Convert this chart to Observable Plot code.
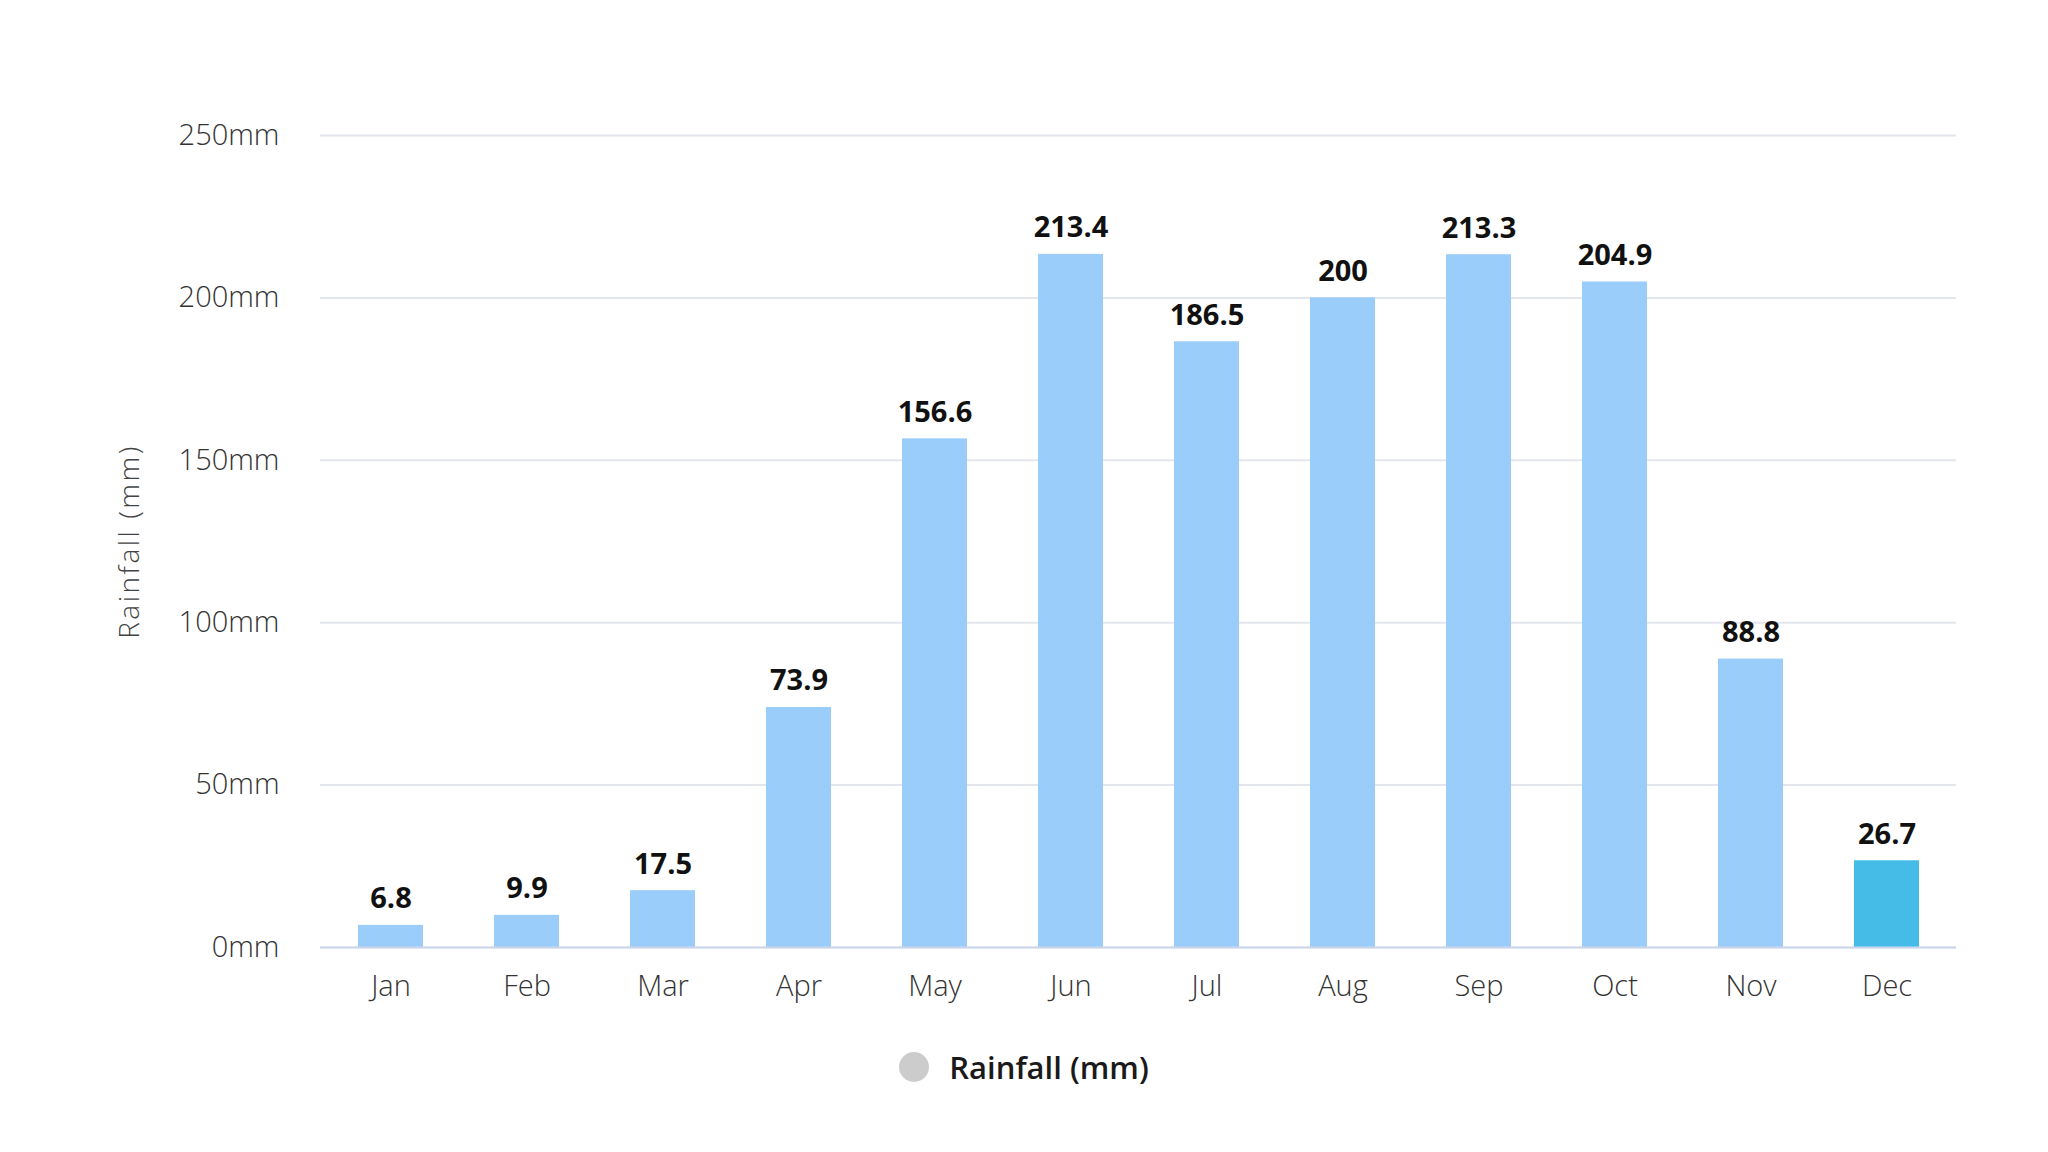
<!DOCTYPE html>
<html>
<head>
<meta charset="utf-8">
<script src="https://cdn.jsdelivr.net/npm/d3@7"></script>
<script src="https://cdn.jsdelivr.net/npm/@observablehq/plot@0.6"></script>
<style>
  html, body { margin: 0; padding: 0; background: #fff; }
  body { width: 2048px; font-family: "Open Sans", sans-serif; }
  #legend { display: flex; justify-content: center; align-items: center; height: 74px; margin-top: 0; }
  #legend .dot { width: 30px; height: 30px; border-radius: 50%; background: #cccccc; margin-right: 20px; }
  #legend .lbl { font-size: 31px; font-weight: 600; color: #1a1a1a; }
</style>
</head>
<body>
<div id="chart"></div>
<div id="legend"><span class="dot"></span><span class="lbl">Rainfall (mm)</span></div>
<script>
const months = ["Jan","Feb","Mar","Apr","May","Jun","Jul","Aug","Sep","Oct","Nov","Dec"];
const rainfall = [6.8, 9.9, 17.5, 73.9, 156.6, 213.4, 186.5, 200, 213.3, 204.9, 88.8, 26.7];
const yTicks = [0, 50, 100, 150, 200, 250];
const highlightMonth = "Dec";
const yTitle = "Rainfall (mm)";

const data = months.map((m, i) => ({month: m, value: rainfall[i]}));

const chart = Plot.plot({
  width: 2048,
  height: 1030,
  marginTop: 135,
  marginBottom: 83,
  marginLeft: 320,
  marginRight: 92,
  style: {fontFamily: "'Open Sans', sans-serif", background: "#fff"},
  x: {domain: months, paddingInner: 0.523, paddingOuter: 0.2615, label: null},
  y: {domain: [0, 250], label: null},
  marks: [
    Plot.gridY(yTicks, {stroke: "#e3e6ec", strokeOpacity: 1, strokeWidth: 2}),
    Plot.barY(data, {
      x: "month", y: "value",
      fill: d => d.month === highlightMonth ? "#45bce8" : "#9bcdfb"
    }),
    Plot.ruleY([0], {stroke: "#ccd6eb", strokeWidth: 2}),
    Plot.axisX({tickSize: 0, tickPadding: 28, fontSize: 29, fill: "#333", fontWeight: 300}),
    Plot.axisY({ticks: yTicks, tickSize: 0, tickPadding: 41, tickFormat: d => d + "mm", fontSize: 29, fill: "#333", fontWeight: 300, label: null}),
    Plot.text(data, {
      x: "month", y: "value", text: d => String(d.value),
      dy: -17, lineAnchor: "bottom", fontSize: 29, fontWeight: 700, fill: "#111"
    }),
    Plot.text([yTitle], {
      frameAnchor: "left", dx: -190, rotate: -90, textAnchor: "middle",
      fontSize: 28, fill: "#444", fontWeight: 300
    })
  ]
});
d3.select(chart).selectAll("text").filter(function() { return this.textContent === yTitle; })
  .attr("letter-spacing", "2.5px");
document.getElementById("chart").appendChild(chart);
</script>
</body>
</html>
